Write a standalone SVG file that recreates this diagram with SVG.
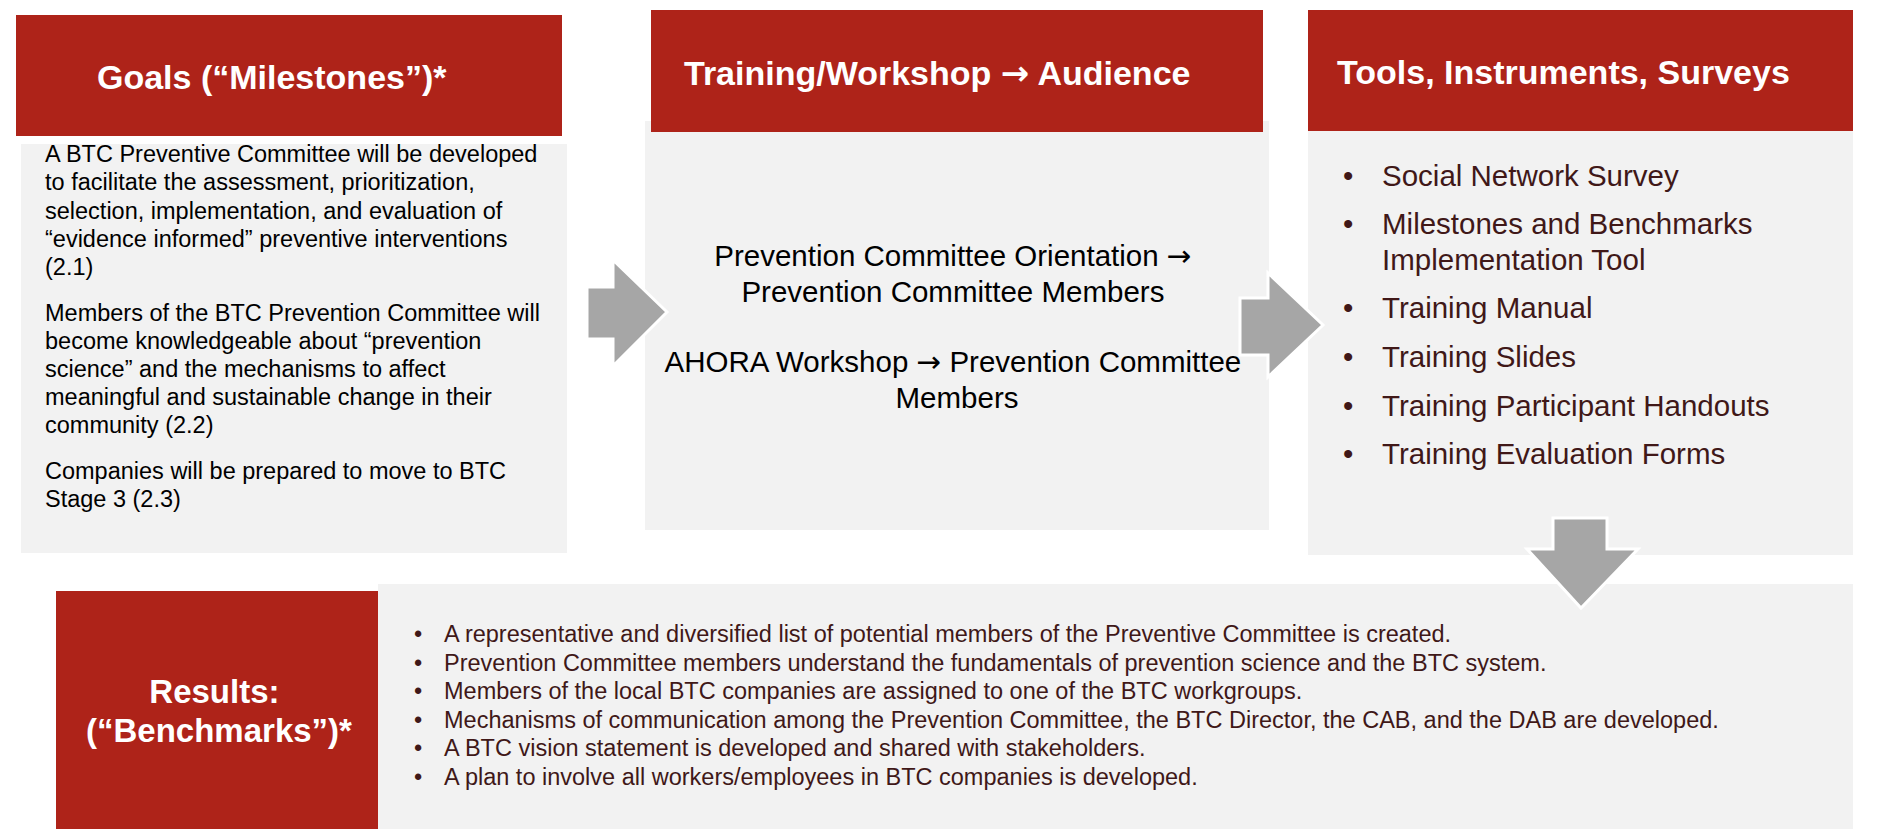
<svg xmlns="http://www.w3.org/2000/svg" width="1880" height="840" viewBox="0 0 1880 840">
<style>
.hdr{fill:#AE2319}
.panel{fill:#F2F2F2}
.ttl{font-family:"Liberation Sans",Arial,sans-serif;font-weight:bold;font-size:34px;fill:#FFFFFF}
.body{font-family:"Liberation Sans",Arial,sans-serif;font-size:23.5px;fill:#000000}
.mid{font-family:"Liberation Sans",Arial,sans-serif;font-size:29.5px;fill:#000000}
.tool{font-family:"Liberation Sans",Arial,sans-serif;font-size:29.5px;fill:#401818}
.res{font-family:"Liberation Sans",Arial,sans-serif;font-size:23.5px;fill:#401818}
.arr{font-family:"DejaVu Sans",sans-serif}
.arrow{fill:#A6A6A6;stroke:#FFFFFF;stroke-width:3;stroke-linejoin:miter}
</style>
<rect width="1880" height="840" fill="#FFFFFF"/>

<g id="goals">
  <rect class="panel" x="21" y="144" width="546" height="409"/>
  <rect class="hdr" x="16" y="15" width="546" height="121"/>
  <text class="ttl" x="97" y="89">Goals (“Milestones”)*</text>
  <text class="body">
    <tspan x="45" y="162">A BTC Preventive Committee will be developed</tspan>
    <tspan x="45" y="190">to facilitate the assessment, prioritization,</tspan>
    <tspan x="45" y="218.5">selection, implementation, and evaluation of</tspan>
    <tspan x="45" y="247">“evidence informed” preventive interventions</tspan>
    <tspan x="45" y="275">(2.1)</tspan>
    <tspan x="45" y="321">Members of the BTC Prevention Committee will</tspan>
    <tspan x="45" y="349">become knowledgeable about “prevention</tspan>
    <tspan x="45" y="377">science” and the mechanisms to affect</tspan>
    <tspan x="45" y="405">meaningful and sustainable change in their</tspan>
    <tspan x="45" y="433">community (2.2)</tspan>
    <tspan x="45" y="479">Companies will be prepared to move to BTC</tspan>
    <tspan x="45" y="507">Stage 3 (2.3)</tspan>
  </text>
</g>

<g id="training">
  <rect class="panel" x="645" y="121" width="624" height="409"/>
  <rect class="hdr" x="651" y="10" width="612" height="122"/>
  <text class="ttl" x="684" y="84.5">Training/Workshop <tspan class="arr">→</tspan> Audience</text>
  <text class="mid" text-anchor="middle">
    <tspan x="957" y="265.5">Prevention Committee Orientation <tspan class="arr">→</tspan></tspan>
    <tspan x="957" y="301.5">Prevention Committee Members</tspan>
    <tspan x="957" y="371.5">AHORA Workshop <tspan class="arr">→</tspan> Prevention Committee</tspan>
    <tspan x="957" y="408">Members</tspan>
  </text>
</g>

<g id="tools">
  <rect class="panel" x="1308" y="131" width="545" height="424"/>
  <rect class="hdr" x="1308" y="10" width="545" height="121"/>
  <text class="ttl" x="1337" y="84">Tools, Instruments, Surveys</text>
  <text class="tool">
    <tspan x="1343" y="185.5">•</tspan><tspan x="1382" y="185.5">Social Network Survey</tspan>
    <tspan x="1343" y="233.5">•</tspan><tspan x="1382" y="233.5">Milestones and Benchmarks</tspan>
    <tspan x="1382" y="269.5">Implementation Tool</tspan>
    <tspan x="1343" y="318">•</tspan><tspan x="1382" y="318">Training Manual</tspan>
    <tspan x="1343" y="367">•</tspan><tspan x="1382" y="367">Training Slides</tspan>
    <tspan x="1343" y="415.5">•</tspan><tspan x="1382" y="415.5">Training Participant Handouts</tspan>
    <tspan x="1343" y="463.5">•</tspan><tspan x="1382" y="463.5">Training Evaluation Forms</tspan>
  </text>
</g>

<g id="results">
  <rect class="panel" x="378" y="584" width="1475" height="245"/>
  <rect class="hdr" x="56" y="591" width="322" height="238"/>
  <text class="ttl" text-anchor="middle" style="font-size:33px">
    <tspan x="219" y="702.5">Results:</tspan>
    <tspan x="219" y="741.5">(“Benchmarks”)*</tspan>
  </text>
  <text class="res">
    <tspan x="414" y="642">•</tspan><tspan x="444" y="642">A representative and diversified list of potential members of the Preventive Committee is created.</tspan>
    <tspan x="414" y="670.5">•</tspan><tspan x="444" y="670.5">Prevention Committee members understand the fundamentals of prevention science and the BTC system.</tspan>
    <tspan x="414" y="699">•</tspan><tspan x="444" y="699">Members of the local BTC companies are assigned to one of the BTC workgroups.</tspan>
    <tspan x="414" y="727.5">•</tspan><tspan x="444" y="727.5">Mechanisms of communication among the Prevention Committee, the BTC Director, the CAB, and the DAB are developed.</tspan>
    <tspan x="414" y="756">•</tspan><tspan x="444" y="756">A BTC vision statement is developed and shared with stakeholders.</tspan>
    <tspan x="414" y="784.5">•</tspan><tspan x="444" y="784.5">A plan to involve all workers/employees in BTC companies is developed.</tspan>
  </text>
</g>

<g id="connectors">
  <polygon class="arrow" points="587,287 613,287 613,260 667,312 613,366 613,339 587,339"/>
  <polygon class="arrow" points="1240,298 1268,298 1268,273 1323,325 1268,377 1268,355 1240,355"/>
  <polygon class="arrow" points="1553,518 1607,518 1607,549 1638,549 1581,608 1527,549 1553,549"/>
</g>
</svg>
